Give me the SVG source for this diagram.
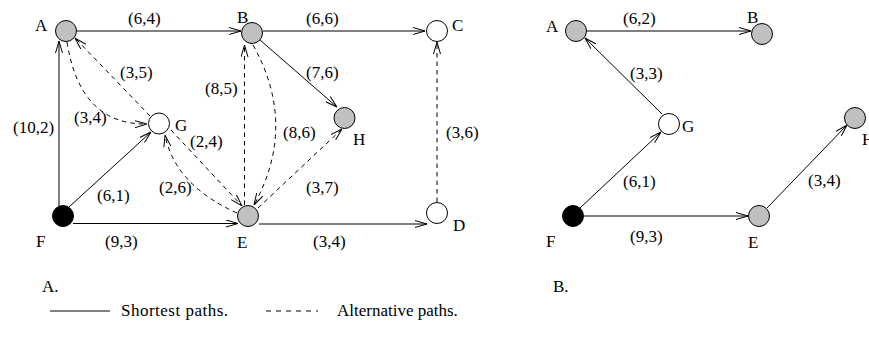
<svg xmlns="http://www.w3.org/2000/svg" width="869" height="339" viewBox="0 0 869 339">
<style>
text{font-family:"Liberation Serif","Times New Roman",serif;font-size:17px;fill:#000}
.n{stroke:#000;stroke-width:1}
.g{fill:#c0c0c0}
.w{fill:#fff}
.b{fill:#000}
.s{fill:none;stroke:#000;stroke-width:1}
.d{fill:none;stroke:#000;stroke-width:1;stroke-dasharray:4.5 4}
.a{marker-end:url(#arr)}
</style>
<defs>
<marker id="arr" viewBox="0 0 12 8" refX="12" refY="4" markerWidth="12" markerHeight="8" markerUnits="userSpaceOnUse" orient="auto">
<path d="M0,0.5 L12,4 L0,7.5" fill="none" stroke="#000" stroke-width="1"/>
</marker>
</defs>
<g id="connectors">
<line class="s a" x1="77" y1="31" x2="241" y2="31"/>
<line class="s a" x1="263" y1="31" x2="425" y2="31"/>
<line class="s a" x1="260" y1="40" x2="337" y2="107"/>
<line class="s a" x1="59" y1="206" x2="59" y2="41"/>
<line class="s a" x1="69" y1="207" x2="151" y2="132"/>
<line class="s a" x1="73" y1="223.5" x2="238" y2="223.5"/>
<line class="s a" x1="259" y1="224" x2="427" y2="224"/>
<path class="d a" d="M67,42 Q80,125 147,124"/>
<line class="d a" x1="150" y1="116" x2="75" y2="38"/>
<line class="d a" x1="244.5" y1="205" x2="244.5" y2="45"/>
<path class="d a" d="M253,45 Q298,125 254,205"/>
<line class="d a" x1="171" y1="130" x2="242" y2="206"/>
<path class="d a" d="M237,213 Q175,185 165,135"/>
<line class="d a" x1="258" y1="208" x2="342" y2="129"/>
<line class="d a" x1="437" y1="202" x2="437" y2="42"/>
<line class="s a" x1="587" y1="31" x2="751" y2="31"/>
<line class="s a" x1="662" y1="114" x2="585" y2="38"/>
<line class="s a" x1="580" y1="208" x2="661" y2="132"/>
<line class="s a" x1="584" y1="216" x2="748" y2="216"/>
<line class="s a" x1="767" y1="208" x2="847" y2="125"/>
<line class="s" x1="50" y1="311" x2="110" y2="311"/>
<line class="s" x1="266" y1="311" x2="318" y2="311" stroke-dasharray="5 5"/>
</g>
<g id="nodeA1"><circle class="n g" cx="66" cy="31" r="10.5"/><text x="35" y="31">A</text></g>
<g id="nodeB1"><circle class="n g" cx="252" cy="33" r="10.5"/><text x="237" y="23">B</text></g>
<g id="nodeC1"><circle class="n w" cx="437" cy="31" r="10.5"/><text x="452" y="31">C</text></g>
<g id="nodeG1"><circle class="n w" cx="159" cy="123.5" r="10.5"/><text x="175" y="131">G</text></g>
<g id="nodeH1"><circle class="n g" cx="344.5" cy="118" r="10.5"/><text x="353" y="145">H</text></g>
<g id="nodeF1"><circle class="n b" cx="63" cy="216" r="10.5"/><text x="36" y="247">F</text></g>
<g id="nodeE1"><circle class="n g" cx="248" cy="216" r="10.5"/><text x="237" y="248">E</text></g>
<g id="nodeD1"><circle class="n w" cx="437" cy="213" r="10.5"/><text x="453" y="231">D</text></g>
<g id="nodeA2"><circle class="n g" cx="576" cy="31" r="10.5"/><text x="546" y="32">A</text></g>
<g id="nodeB2"><circle class="n g" cx="762" cy="34" r="10.5"/><text x="747" y="23">B</text></g>
<g id="nodeG2"><circle class="n w" cx="669" cy="124" r="10.5"/><text x="682" y="132">G</text></g>
<g id="nodeH2"><circle class="n g" cx="855" cy="118" r="10.5"/><text x="862" y="145">H</text></g>
<g id="nodeF2"><circle class="n b" cx="573" cy="216" r="10.5"/><text x="546" y="247">F</text></g>
<g id="nodeE2"><circle class="n g" cx="759" cy="216" r="10.5"/><text x="748" y="248">E</text></g>
<g id="labels">
<text x="128" y="24">(6,4)</text>
<text x="306" y="24">(6,6)</text>
<text x="306" y="78">(7,6)</text>
<text x="283" y="138">(8,6)</text>
<text x="446" y="138">(3,6)</text>
<text x="120" y="78">(3,5)</text>
<text x="205" y="94">(8,5)</text>
<text x="74" y="123">(3,4)</text>
<text x="13" y="133">(10,2)</text>
<text x="190" y="147">(2,4)</text>
<text x="159" y="193">(2,6)</text>
<text x="97" y="201">(6,1)</text>
<text x="105" y="247">(9,3)</text>
<text x="306" y="193">(3,7)</text>
<text x="313" y="247">(3,4)</text>
<text x="623" y="24">(6,2)</text>
<text x="630" y="79">(3,3)</text>
<text x="623" y="187">(6,1)</text>
<text x="630" y="242">(9,3)</text>
<text x="808" y="186">(3,4)</text>
<text x="42" y="292">A.</text>
<text x="553" y="292">B.</text>
<text x="121" y="316" textLength="107">Shortest paths.</text>
<text x="337" y="316">Alternative paths.</text>
</g>
</svg>
